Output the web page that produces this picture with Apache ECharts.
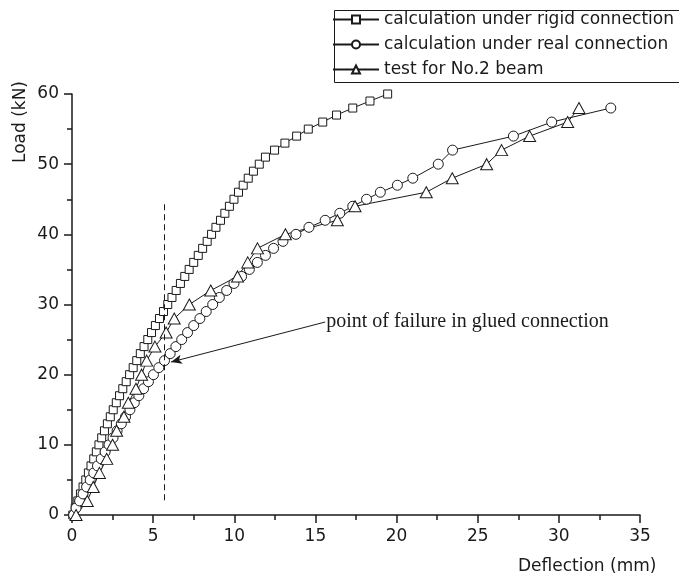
<!DOCTYPE html>
<html>
<head>
<meta charset="utf-8">
<script src="https://cdn.jsdelivr.net/npm/echarts@6/dist/echarts.min.js"></script>
<style>
  html, body { margin: 0; padding: 0; background: #fff; }
  #chart { width: 679px; height: 579px; }
</style>
</head>
<body>
<div id="chart"></div>
<script>
// calculation under rigid connection (load kN / deflection mm)
var rigidLoad = [0, 1, 2, 3, 4, 5, 6, 7, 8, 9, 10, 11, 12, 13, 14, 15, 16, 17, 18, 19, 20,
    21, 22, 23, 24, 25, 26, 27, 28, 29, 30, 31, 32, 33, 34, 35, 36, 37, 38, 39, 40,
    41, 42, 43, 44, 45, 46, 47, 48, 49, 50, 51, 52, 53, 54, 55, 56, 57, 58, 59, 60];
var rigidDefl = [0.05, 0.2, 0.36, 0.52, 0.68, 0.85, 1.01, 1.17, 1.34, 1.5, 1.66, 1.83, 2.0, 2.18, 2.36, 2.54, 2.73, 2.93, 3.13, 3.34, 3.55,
    3.77, 3.99, 4.21, 4.44, 4.67, 4.9, 5.14, 5.39, 5.64, 5.9, 6.16, 6.42, 6.68, 6.95, 7.22, 7.5, 7.78, 8.05, 8.33, 8.6,
    8.87, 9.15, 9.42, 9.7, 9.98, 10.26, 10.55, 10.86, 11.18, 11.54, 11.92, 12.48, 13.12, 13.84, 14.56, 15.45, 16.3, 17.3, 18.36, 19.45];

// calculation under real connection
var realLoad = [0, 1, 2, 3, 4, 5, 6, 7, 8, 9, 10, 11, 12, 13, 14, 15, 16, 17, 18, 19, 20,
    21, 22, 23, 24, 25, 26, 27, 28, 29, 30, 31, 32, 33, 34, 35, 36, 37, 38, 39, 40,
    41, 42, 43, 44, 45, 46, 47, 48, 50, 52, 54, 56, 58];
var realDefl = [0.1, 0.25, 0.47, 0.68, 0.9, 1.12, 1.34, 1.57, 1.8, 2.04, 2.28, 2.53, 2.78, 3.04, 3.3, 3.57, 3.84, 4.12, 4.41, 4.71, 5.02,
    5.35, 5.7, 6.05, 6.4, 6.76, 7.12, 7.5, 7.88, 8.27, 8.67, 9.08, 9.53, 9.98, 10.45, 10.93, 11.42, 11.92, 12.42, 13.0, 13.8,
    14.6, 15.6, 16.5, 17.3, 18.15, 19.0, 20.05, 21.0, 22.57, 23.45, 27.2, 29.56, 33.2];

// test for No.2 beam
var testLoad = [0, 2, 4, 6, 8, 10, 12, 14, 16, 18, 20, 22, 24, 26, 28, 30,
    32, 34, 36, 38, 40, 42, 44, 46, 48, 50, 52, 54, 56, 58];
var testDefl = [0.25, 0.94, 1.31, 1.69, 2.14, 2.5, 2.75, 3.2, 3.47, 3.94, 4.29, 4.6, 5.11, 5.8, 6.3, 7.23,
    8.55, 10.2, 10.83, 11.43, 13.15, 16.35, 17.44, 21.83, 23.43, 25.55, 26.47, 28.2, 30.54, 31.24];

var seriesNames = ['calculation under rigid connection', 'calculation under real connection', 'test for No.2 beam'];
var xTicks = [0, 35, 5];   // min, max, interval
var yTicks = [0, 60, 10];

// 试验破坏点标注
var failureLine = [[5.69, 2.1], [5.69, 44.3]];
var arrowFrom = [15.6, 27.5];
var arrowTo = [6.1, 21.8];
var noteText = 'point of failure in glued connection';

function pairs(xs, ys) {
    var out = [];
    for (var i = 0; i < xs.length; i++) {
        out.push([xs[i], ys[i]]);
    }
    return out;
}

var ink = '#1a1a1a';
var font = 'DejaVu Sans';

var myChart = echarts.init(document.getElementById('chart'), null, {renderer: 'canvas'});

function markerStyle() {
    return {color: '#fff', borderColor: ink, borderWidth: 1};
}

var options = {
    backgroundColor: '#fff',
    animation: false,
    grid: {left: 72, right: 39, top: 94, bottom: 64, containLabel: false},
    legend: {
        orient: 'vertical',
        left: 332,
        top: 8,
        padding: [3, 0, 3, 0],
        itemWidth: 46,
        itemHeight: 10,
        itemGap: 8,
        textStyle: {fontFamily: font, fontSize: 17, lineHeight: 17, color: ink},
        data: seriesNames
    },
    xAxis: {
        type: 'value',
        min: xTicks[0],
        max: xTicks[1],
        interval: xTicks[2],
        axisLine: {show: true, onZero: false, lineStyle: {color: ink, width: 1.5}},
        axisTick: {show: true, length: 8, lineStyle: {color: ink, width: 1.5}},
        minorTick: {show: true, splitNumber: 2, length: 5, lineStyle: {color: ink, width: 1.5}},
        axisLabel: {margin: 13, fontFamily: font, fontSize: 17, color: ink},
        splitLine: {show: false}
    },
    yAxis: {
        type: 'value',
        min: yTicks[0],
        max: yTicks[1],
        interval: yTicks[2],
        axisLine: {show: true, onZero: false, lineStyle: {color: ink, width: 1.5}},
        axisTick: {show: true, length: 8, lineStyle: {color: ink, width: 1.5}},
        minorTick: {show: true, splitNumber: 2, length: 5, lineStyle: {color: ink, width: 1.5}},
        axisLabel: {margin: 13, fontFamily: font, fontSize: 17, color: ink},
        splitLine: {show: false}
    },
    graphic: [
        {
            // legend frame, open to the right edge as in the original
            type: 'rect',
            left: 332,
            top: 8,
            shape: {width: 420, height: 72},
            style: {fill: 'none', stroke: ink, lineWidth: 1},
            silent: true
        },
        {
            type: 'text',
            left: 518,
            top: 558,
            style: {text: 'Deflection (mm)', font: '17px "DejaVu Sans"', fill: ink}
        },
        {
            type: 'text',
            x: 21,
            y: 122,
            rotation: Math.PI / 2,
            style: {text: 'Load (kN)', font: '17px "DejaVu Sans"', fill: ink, align: 'center', verticalAlign: 'middle'}
        }
    ],
    series: [
        {
            name: seriesNames[0],
            type: 'line',
            symbol: 'rect',
            symbolSize: 8,
            showAllSymbol: true,
            lineStyle: {color: ink, width: 1},
            itemStyle: markerStyle(),
            data: pairs(rigidDefl, rigidLoad),
            markLine: {
                silent: true,
                symbol: ['none', 'none'],
                label: {show: false},
                lineStyle: {color: ink, width: 1, type: [6, 4]},
                data: [[{coord: failureLine[0]}, {coord: failureLine[1]}]]
            }
        },
        {
            name: seriesNames[1],
            type: 'line',
            symbol: 'circle',
            symbolSize: 10,
            showAllSymbol: true,
            lineStyle: {color: ink, width: 1},
            itemStyle: markerStyle(),
            data: pairs(realDefl, realLoad),
            markLine: {
                silent: true,
                symbol: ['none', 'arrow'],
                symbolSize: [7, 11],
                label: {show: false},
                lineStyle: {color: ink, width: 1, type: 'solid'},
                data: [[{coord: arrowFrom}, {coord: arrowTo}]]
            },
            markPoint: {
                silent: true,
                symbol: 'circle',
                symbolSize: 0,
                label: {
                    show: true,
                    position: 'right',
                    distance: 1,
                    formatter: noteText,
                    fontFamily: 'Liberation Serif',
                    fontSize: 20,
                    color: ink
                },
                data: [{coord: arrowFrom}]
            }
        },
        {
            name: seriesNames[2],
            type: 'line',
            symbol: 'triangle',
            symbolSize: [12, 11],
            showAllSymbol: true,
            lineStyle: {color: ink, width: 1},
            itemStyle: markerStyle(),
            data: pairs(testDefl, testLoad)
        }
    ]
};
myChart.setOption(options, true);
</script>
</body>
</html>
